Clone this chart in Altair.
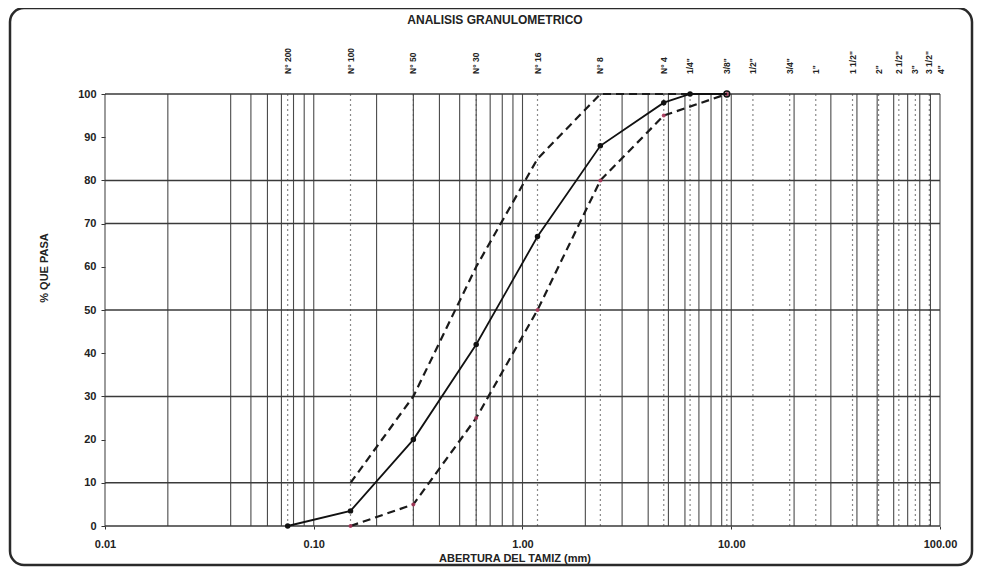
import altair as alt
import pandas as pd

# ---- data ----
sieve_labels = ['N° 200', 'N° 100', 'N° 50', 'N° 30', 'N° 16', 'N° 8', 'N° 4',
                '1/4"', '3/8"', '1/2"', '3/4"', '1"', '1 1/2"', '2"', '2 1/2"',
                '3"', '3 1/2"', '4"']
sieve_mm = [0.075, 0.15, 0.3, 0.6, 1.18, 2.36, 4.75, 6.35, 9.525, 12.7, 19.05,
            25.4, 38.1, 50.8, 63.5, 76.2, 88.9, 101.6]

sample_mm = [0.075, 0.15, 0.3, 0.6, 1.18, 2.36, 4.75, 6.35, 9.525]
sample_pct = [0, 3.5, 20, 42, 67, 88, 98, 100, 100]

band_mm = [0.15, 0.3, 0.6, 1.18, 2.36, 4.75, 9.525]
lower_pct = [0, 5, 25, 50, 80, 95, 100]
upper_pct = [10, 30, 60, 85, 100, 100, 100]

x_ticks = [0.01, 0.1, 1, 10, 100]
y_ticks = [0, 10, 20, 30, 40, 50, 60, 70, 80, 90, 100]
h_grid = [0, 10, 30, 50, 70, 80, 100]
v_grid = [0.01, 0.02, 0.04, 0.05, 0.06, 0.07, 0.08, 0.09,
          0.1, 0.2, 0.3, 0.4, 0.5, 0.6, 0.7, 0.8, 0.9,
          1, 2, 3, 4, 5, 6, 7, 8, 9,
          10, 20, 30, 40, 50, 60, 70, 80, 90, 100]

title_text = "ANALISIS GRANULOMETRICO"
x_title = "ABERTURA DEL TAMIZ (mm)"
y_title = "% QUE PASA"

FONT = "Liberation Sans"
W, H = 835, 432

xscale = alt.Scale(type="log", domain=[0.01, 100], nice=False)
yscale = alt.Scale(domain=[0, 100], nice=False, zero=False)

xaxis = alt.Axis(values=x_ticks, format=".2f", grid=False, domain=False,
                 tickSize=3, tickColor="#333", labelPadding=9, title=None,
                 labelFontSize=11, labelFont=FONT, labelColor="#222",
                 labelFontWeight="bold", labelFlush=False)
yaxis = alt.Axis(values=y_ticks, grid=False, domain=False, tickSize=4,
                 tickColor="#333", labelPadding=5, labelFontSize=11, title=None,
                 labelFont=FONT, labelColor="#222", labelFontWeight="bold")


def X(field):
    return alt.X(field, scale=xscale, axis=xaxis, title=None)


def Y(field):
    return alt.Y(field, scale=yscale, axis=yaxis, title=None)


one = pd.DataFrame({"a": [0]})

frame = alt.Chart(one).mark_rect(
    fillOpacity=0, stroke="#2a2a2a", strokeWidth=2.5, cornerRadius=14
).encode(x=alt.value(-95), x2=alt.value(867), y=alt.value(-86), y2=alt.value(471))

sieve_df = pd.DataFrame({"mm": sieve_mm, "label": sieve_labels})

sieve_lines = alt.Chart(sieve_df).mark_rule(
    color="#8a8a8a", strokeWidth=1.2, strokeDash=[2, 3], clip=True
).encode(x=X("mm:Q"))

vgrid = alt.Chart(pd.DataFrame({"v": v_grid})).mark_rule(
    color="#4a4a4a", strokeWidth=1.1
).encode(x=X("v:Q"))

hgrid = alt.Chart(pd.DataFrame({"h": h_grid})).mark_rule(
    color="#3a3a3a", strokeWidth=1.5
).encode(y=Y("h:Q"))

sample_df = pd.DataFrame({"mm": sample_mm, "pct": sample_pct})
band_df = pd.DataFrame({"mm": band_mm, "lo": lower_pct, "up": upper_pct})

lower_line = alt.Chart(band_df).mark_line(
    color="#1a1a1a", strokeWidth=2.2, strokeDash=[8, 5]
).encode(x=X("mm:Q"), y=Y("lo:Q"))

upper_line = alt.Chart(band_df).mark_line(
    color="#1a1a1a", strokeWidth=2.2, strokeDash=[8, 5]
).encode(x=X("mm:Q"), y=Y("up:Q"))

lower_pts = alt.Chart(band_df).mark_point(
    filled=True, color="#a8365a", size=16, opacity=0.9
).encode(x=X("mm:Q"), y=Y("lo:Q"))

sample_line = alt.Chart(sample_df).mark_line(
    color="#111", strokeWidth=1.8
).encode(x=X("mm:Q"), y=Y("pct:Q"))

sample_pts = alt.Chart(sample_df.iloc[:-1]).mark_point(
    filled=True, color="#111", size=30, opacity=1
).encode(x=X("mm:Q"), y=Y("pct:Q"))

last_pt = alt.Chart(sample_df.iloc[-1:]).mark_point(
    filled=False, color="#111", size=34, strokeWidth=1.5, opacity=1
).encode(x=X("mm:Q"), y=Y("pct:Q"))

sieve_text = alt.Chart(sieve_df).mark_text(
    angle=270, align="left", baseline="middle", fontSize=8.5, font=FONT,
    fontWeight="bold", color="#222"
).encode(x=X("mm:Q"), y=alt.value(-20), text="label:N")

title_mark = alt.Chart(pd.DataFrame({"t": [title_text]})).mark_text(
    fontSize=12, font=FONT, fontWeight="bold", color="#222", baseline="middle"
).encode(x=alt.value(390), y=alt.value(-74), text="t:N")

xt_mark = alt.Chart(pd.DataFrame({"t": [x_title]})).mark_text(
    fontSize=11, font=FONT, fontWeight="bold", color="#222", baseline="middle"
).encode(x=alt.value(410), y=alt.value(465), text="t:N")

yt_mark = alt.Chart(pd.DataFrame({"t": [y_title]})).mark_text(
    fontSize=11, font=FONT, fontWeight="bold", color="#222", baseline="middle",
    angle=270
).encode(x=alt.value(-60), y=alt.value(174), text="t:N")

chart = alt.layer(
    frame, sieve_lines, vgrid, hgrid, lower_line, upper_line, lower_pts,
    sample_line, sample_pts, last_pt, sieve_text, title_mark, xt_mark, yt_mark
).properties(
    width=W, height=H,
    padding={"left": 97, "top": 86, "right": 34, "bottom": 42},
    autosize=alt.AutoSizeParams(type="none"),
    background="white",
).configure_view(stroke=None)

chart.save("out.html", embed_options={"renderer": "svg", "actions": False})
